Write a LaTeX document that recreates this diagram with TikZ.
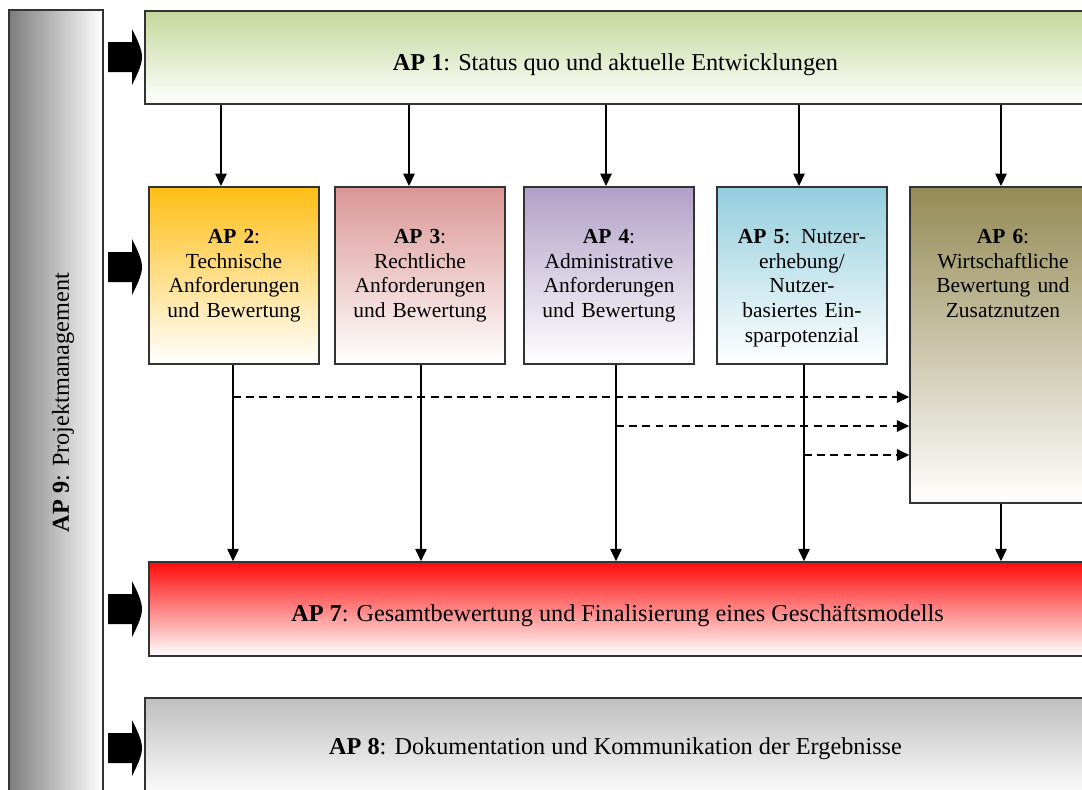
\documentclass[tikz,border=0pt]{standalone}
\usepackage{fontspec}
\setmainfont{Liberation Serif}
\usetikzlibrary{arrows.meta,positioning}

\definecolor{apgreen}{RGB}{196,215,155}
\definecolor{aporange}{RGB}{255,190,20}
\definecolor{aprose}{RGB}{218,150,148}
\definecolor{aplilac}{RGB}{177,160,199}
\definecolor{apblue}{RGB}{146,205,220}
\definecolor{apolive}{RGB}{148,138,84}
\definecolor{apred}{RGB}{255,10,10}
\definecolor{apgray}{RGB}{191,191,191}
\definecolor{apdark}{RGB}{125,125,125}

\begin{document}
\begin{tikzpicture}[
    x=0.02cm, y=-0.02cm,
    wp/.style={rectangle, draw=black!80, line width=0.9pt, align=center, bottom color=white, font=\fontsize{13.8}{16}\selectfont},
    rowbox/.style={wp, anchor=north, text width=3.2cm, inner xsep=0.1cm, inner ysep=0.1cm, text height=1.04cm, text depth=2.3cm, font=\fontsize{12.2}{14}\selectfont},
    arrow/.style={-{Triangle[length=7pt,width=6.5pt]}, line width=0.7pt},
    dasharrow/.style={arrow, dash pattern=on 4.5pt off 3pt, line width=0.9pt}
]
\useasboundingbox (0,0) rectangle (1082,789);
\clip (0,0) rectangle (1082,789);

% Projektmanagement
\node[wp, left color=apdark, right color=white, minimum width=1.88cm, minimum height=15.7cm,
      label={[xshift=0.14cm, rotate=90, font=\fontsize{13.8}{16}\selectfont]center:{\textbf{AP 9}: Projektmanagement}}] (ap9) at (56,402.5) {};

% work packages
\node[wp, top color=apgreen, minimum width=18.82cm, minimum height=1.86cm, text height=0.62cm, text depth=0.1cm] (ap1) at (615.5,57.5) {\textbf{AP 1}: Status quo und aktuelle Entwicklungen};
\node[rowbox, top color=aporange] (ap2) at (234,186) {\textbf{AP 2}:\\Technische\\Anforderungen\\und Bewertung};
\node[rowbox, top color=aprose] (ap3) at (420,186) {\textbf{AP 3}:\\Rechtliche\\Anforderungen\\und Bewertung};
\node[rowbox, top color=aplilac] (ap4) at (609,186) {\textbf{AP 4}:\\Administrative\\Anforderungen\\und Bewertung};
\node[rowbox, top color=apblue] (ap5) at (802,186) {\textbf{AP 5}: Nutzer-\\erhebung/\\Nutzer-\\basiertes Ein-\\sparpotenzial};
\node[rowbox, top color=apolive, text width=3.52cm, text depth=5.08cm] (ap6) at (1003,186) {\textbf{AP 6}:\\Wirtschaftliche\\Bewertung und\\Zusatznutzen};
\node[wp, top color=apred, minimum width=18.74cm, minimum height=1.88cm, text height=0.6cm, text depth=0.1cm] (ap7) at (617.5,609) {\textbf{AP 7}: Gesamtbewertung und Finalisierung eines Gesch\"aftsmodells};
\node[wp, top color=apgray, minimum width=18.82cm, minimum height=2.04cm] (ap8) at (615.5,749) {\textbf{AP 8}: Dokumentation und Kommunikation der Ergebnisse};

% block arrows from AP 9
\foreach \yy in {57,267,609,748}
  \fill (108,\yy-15) -- (132,\yy-15) -- (132,\yy-28) .. controls (137,\yy-18) and (142,\yy-8) .. (142,\yy)
        .. controls (142,\yy+8) and (137,\yy+18) .. (132,\yy+28) -- (132,\yy+15) -- (108,\yy+15) -- cycle;

% flow
\foreach \n/\xi/\xo in {2/221/233, 3/409/421, 4/606/616, 5/799/804, 6/1001/1001} {
  \draw[arrow] (ap1.south -| \xi,0) -- (ap\n.north -| \xi,0);
  \draw[arrow] (ap\n.south -| \xo,0) -- (ap7.north -| \xo,0);
}

\coordinate (d2) at (233,397);
\coordinate (d4) at (616,426);
\coordinate (d5) at (804,455);
\draw[dasharrow] (d2) -- (ap6.west |- d2);
\draw[dasharrow] (d4) -- (ap6.west |- d4);
\draw[dasharrow] (d5) -- (ap6.west |- d5);
\end{tikzpicture}
\end{document}
